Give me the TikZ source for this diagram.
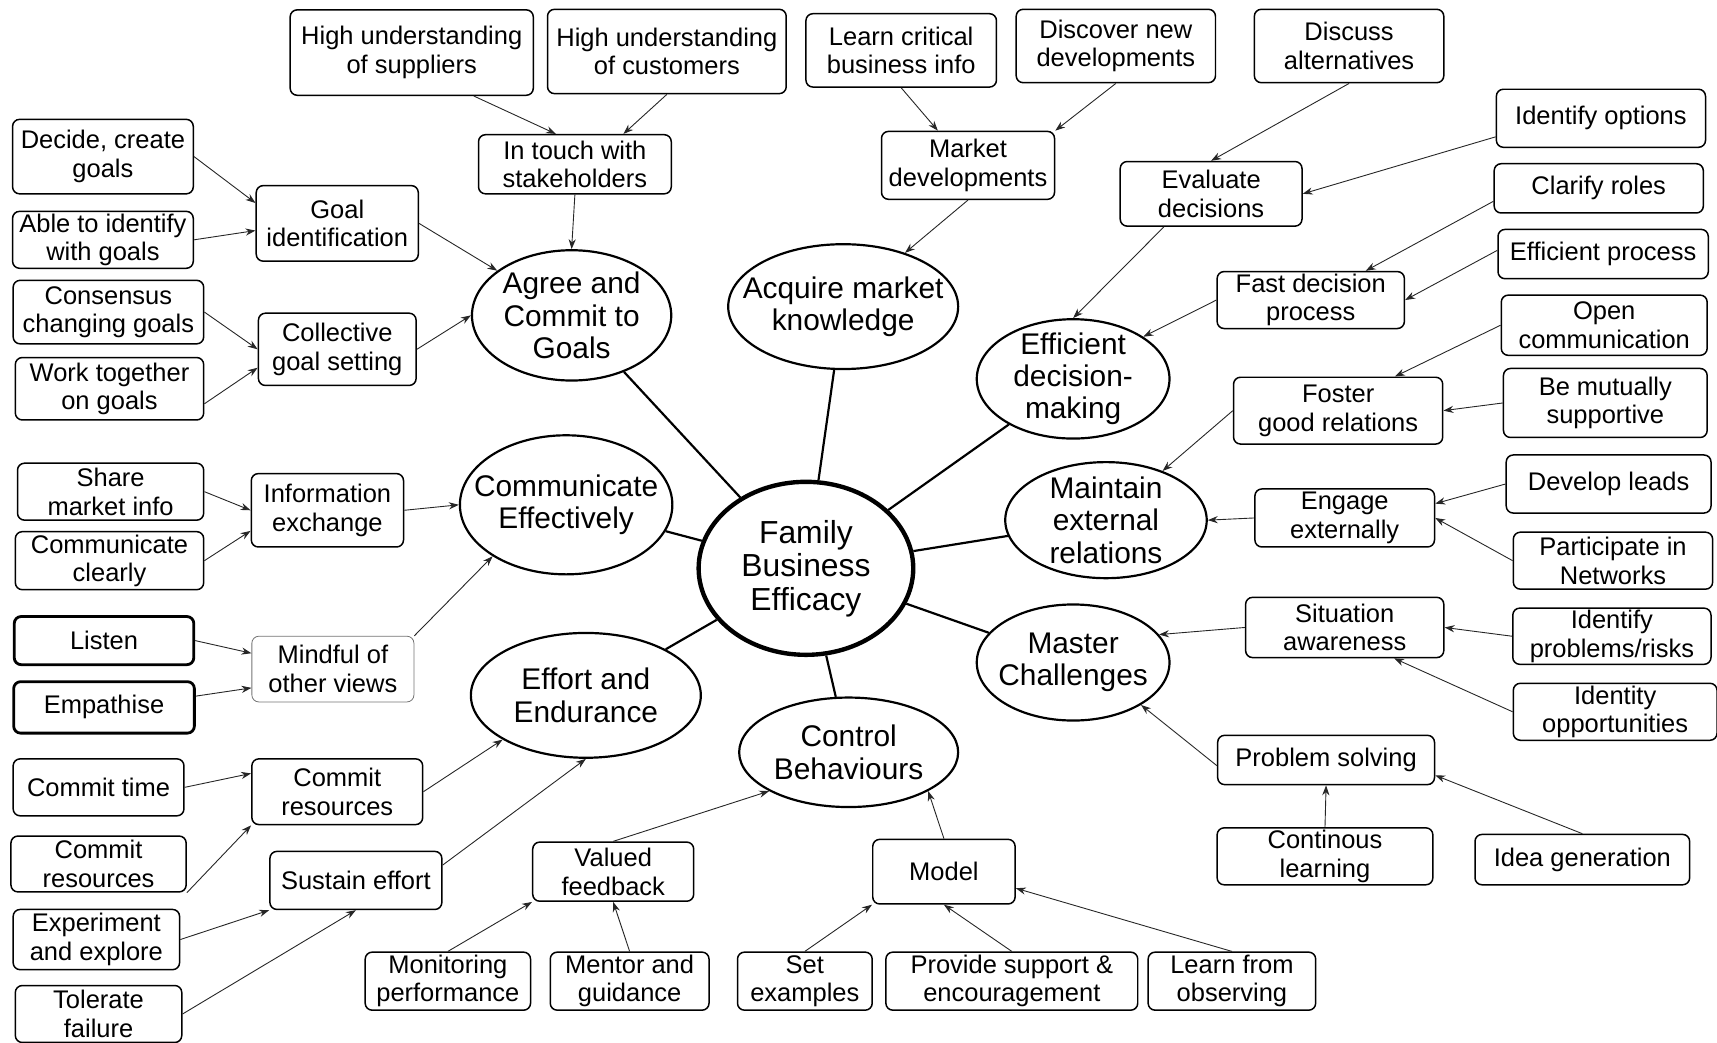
\documentclass[tikz,border=0pt]{standalone}
\usepackage{fontspec}
\setmainfont{Liberation Sans}
\usetikzlibrary{shapes.geometric,arrows.meta}

\tikzset{
  sz/.style 2 args={minimum width=#1*0.55pt, minimum height=#2*0.55pt},
  box/.style={draw, rounded corners=3.5pt, line width=0.75pt, align=center, inner sep=1pt,
    font=\fontsize{12.8}{14.3}\selectfont},
  oval/.style={draw, ellipse, line width=1.1pt, inner sep=0pt},
  otxt/.style={align=center, inner sep=0pt, font=\fontsize{15}{16.2}\selectfont},
  arr/.style={-{Stealth[length=5pt,width=3.6pt]}, line width=0.45pt, black!85},
  spoke/.style={line width=1.1pt},
}

\begin{document}
\begin{tikzpicture}[x=0.55pt, y=-0.55pt]
  \useasboundingbox (0,0) rectangle (1568,952);
  % hub
  \node[draw, ellipse, line width=2.2pt, inner sep=0pt, sz={196}{158}, align=center,
    font=\fontsize{16}{16.8}\selectfont] (fbe) at (736,519) {Family\\Business\\Efficacy};
  % ellipses
  \node[oval, sz={182}{119}] (agc) at (522,288) {};
  \node[otxt] (agc t) at (agc) {Agree and\\Commit to\\Goals};
  \node[oval, sz={210}{114}] (amk) at (770,280) {};
  \node[otxt] (amk t) at (amk) {Acquire market\\knowledge};
  \node[oval, sz={176}{109}] (edm) at (980,346) {};
  \node[otxt] (edm t) at (edm) {Efficient\\decision-\\making};
  \node[oval, sz={184}{106}] (mer) at (1010,475) {};
  \node[otxt] (mer t) at (mer) {Maintain\\external\\relations};
  \node[oval, sz={176}{106}] (mch) at (980,605) {};
  \node[otxt] (mch t) at (mch) {Master\\Challenges};
  \node[oval, sz={200}{100}] (ctb) at (775,687) {};
  \node[otxt] (ctb t) at (ctb) {Control\\Behaviours};
  \node[oval, sz={210}{114}] (eae) at (535,635) {};
  \node[otxt] (eae t) at (eae) {Effort and\\Endurance};
  \node[oval, sz={194}{127}] (cme) at (517,461) {};
  \node[otxt] (cme t) at (cme) {Communicate\\Effectively};
  \foreach \e in {agc,amk,edm,mer,mch,ctb,eae,cme}
    \draw[spoke] (fbe) -- (\e);

  % top row
  \node[box, sz={222}{78}] (sup) at (376,48) {High understanding\\of suppliers};
  \node[box, sz={218}{77}] (cus) at (609,47) {High understanding\\of customers};
  \node[box, sz={174}{67}] (lci) at (823,46) {Learn critical\\business info};
  \node[box, sz={182}{67}] (dnd) at (1019,42) {Discover new\\developments};
  \node[box, sz={173}{67}] (dal) at (1232,42) {Discuss\\alternatives};
  \node[box, sz={176}{54}] (its) at (525,150) {In touch with\\stakeholders};
  \node[box, sz={158}{62}] (mkd) at (884,151) {Market\\developments};
  \node[box, sz={166}{59}] (evd) at (1106,177) {Evaluate\\decisions};
  % right side
  \node[box, sz={191}{53}] (iop) at (1462,108) {Identify options};
  \node[box, sz={191}{45}] (clr) at (1460,172) {Clarify roles};
  \node[box, sz={192}{45}] (efp) at (1464,232) {Efficient process};
  \node[box, sz={188}{55}] (opc) at (1465,297) {Open\\communication};
  \node[box, sz={186}{63}] (bms) at (1466,368) {Be mutually\\supportive};
  \node[box, sz={187}{53}] (dvl) at (1469,442) {Develop leads};
  \node[box, sz={182}{52}] (pin) at (1473,512) {Participate in\\Networks};
  \node[box, sz={181}{51}] (ipr) at (1472,581) {Identify\\problems/risks};
  \node[box, sz={186}{52}] (ido) at (1475,650) {Identity\\opportunities};
  \node[box, sz={196}{46}] (ign) at (1445,785) {Idea generation};
  \node[box, sz={171}{52}] (fdp) at (1197,274) {Fast decision\\process};
  \node[box, sz={191}{61}] (fgr) at (1222,375) {Foster\\good relations};
  \node[box, sz={164}{53}] (eng) at (1228,473) {Engage\\externally};
  \node[box, sz={181}{55}] (sit) at (1228,573) {Situation\\awareness};
  \node[box, sz={198}{45}] (prs) at (1211,694) {Problem solving};
  \node[box, sz={197}{52}] (cnl) at (1210,782) {Continous\\learning};
  % left side
  \node[box, sz={165}{68}] (dcg) at (94,143) {Decide, create\\goals};
  \node[box, sz={165}{52}] (aig) at (94,219) {Able to identify\\with goals};
  \node[box, sz={174}{58}] (ccg) at (99,285) {Consensus\\changing goals};
  \node[box, sz={172}{57}] (wtg) at (100,355) {Work together\\on goals};
  \node[box, sz={148}{69}] (gid) at (308,204) {Goal\\identification};
  \node[box, sz={144}{66}] (cgs) at (308,319) {Collective\\goal setting};
  \node[box, sz={170}{52}] (smi) at (101,449) {Share\\market info};
  \node[box, sz={172}{53}] (ccl) at (100,512) {Communicate\\clearly};
  \node[box, sz={139}{67}] (ixc) at (299,466) {Information\\exchange};
  \node[box, sz={164}{44}, line width=1.4pt] (lst) at (95,585) {Listen};
  \node[box, sz={165}{47}, line width=1.4pt] (emp) at (95,646) {Empathise};
  \node[box, sz={148}{60}, line width=0.4pt, draw=black!55] (mov) at (304,611) {Mindful of\\other views};
  \node[box, sz={156}{52}] (cmt) at (90,719) {Commit time};
  \node[box, sz={160}{51}] (cmr) at (90,789) {Commit\\resources};
  \node[box, sz={156}{60}] (cmr2) at (308,723) {Commit\\resources};
  \node[box, sz={157}{53}] (sus) at (325,804) {Sustain effort};
  \node[box, sz={152}{55}] (exp) at (88,858) {Experiment\\and explore};
  \node[box, sz={152}{52}] (tol) at (90,926) {Tolerate\\failure};
  % bottom
  \node[box, sz={147}{54}] (vfb) at (560,796) {Valued\\feedback};
  \node[box, sz={151}{53}] (mon) at (409,896) {Monitoring\\performance};
  \node[box, sz={145}{53}] (mgu) at (575,896) {Mentor and\\guidance};
  \node[box, sz={130}{59}] (mdl) at (862,796) {Model};
  \node[box, sz={123}{53}] (sex) at (735,896) {Set\\examples};
  \node[box, sz={230}{53}] (psp) at (924,896) {Provide support \&\\encouragement};
  \node[box, sz={153}{53}] (lfo) at (1125,896) {Learn from\\observing};

  % arrows
  \draw[arr] (sup.-35) -- (its.122);
  \draw[arr] (cus.south) -- (its.32);
  \draw[arr] (its.south) -- (agc.north);
  \draw[arr] (gid.east) -- (agc.149);
  \draw[arr] (cgs.east) -- (agc.west);
  \draw[arr] (dcg.east) -- (gid.166);
  \draw[arr] (aig.east) -- (gid.185);
  \draw[arr] (ccg.east) -- (cgs.west);
  \draw[arr] (wtg.-9) -- (cgs.193);
  \draw[arr] (lci.south) -- (mkd.131);
  \draw[arr] (dnd.south) -- (mkd.north east);
  \draw[arr] (mkd.south) -- (amk.41);
  \draw[arr] (dal.south) -- (evd.north);
  \draw[arr] (iop.190) -- (evd.east);
  \draw[arr] (evd.215) -- (edm.north);
  \draw[arr] (clr.187) -- (fdp.28);
  \draw[arr] (efp.178) -- (fdp.east);
  \draw[arr] (fdp.west) -- (edm.31);
  \draw[arr] (opc.west) -- (fgr.31);
  \draw[arr] (bms.west) -- (fgr.east);
  \draw[arr] (fgr.west) -- (mer.41);
  \draw[arr] (dvl.west) -- (eng.9);
  \draw[arr] (pin.west) -- (eng.east);
  \draw[arr] (eng.west) -- (mer.east);
  \draw[arr] (sit.west) -- (mch.18);
  \draw[arr] (ipr.west) -- (sit.east);
  \draw[arr] (ido.west) -- (sit.-32);
  \draw[arr] (prs.183) -- (mch.-32);
  \draw[arr] (cnl.north) -- (prs.south);
  \draw[arr] (ign.north) -- (prs.-8);
  \draw[arr] (smi.east) -- (ixc.west);
  \draw[arr] (ccl.east) -- (ixc.195);
  \draw[arr] (ixc.east) -- (cme.west);
  \draw[arr] (lst.east) -- (mov.169);
  \draw[arr] (emp.7) -- (mov.193);
  \draw[arr] (mov.north east) -- (cme.215);
  \draw[arr] (cmt.east) -- (cmr2.168);
  \draw[arr] (cmr.south east) -- (cmr2.south west);
  \draw[arr] (cmr2.east) -- (eae.208);
  \draw[arr] (sus.10) -- (eae.south);
  \draw[arr] (exp.east) -- (sus.south west);
  \draw[arr] (tol.east) -- (sus.south);
  \draw[arr] (vfb.north) -- (ctb.206);
  \draw[arr] (mon.north) -- (vfb.south west);
  \draw[arr] (mgu.north) -- (vfb.south);
  \draw[arr] (mdl.north) -- (ctb.-26);
  \draw[arr] (sex.north) -- (mdl.south west);
  \draw[arr] (psp.north) -- (mdl.south);
  \draw[arr] (lfo.north) -- (mdl.-13);
\end{tikzpicture}
\end{document}
